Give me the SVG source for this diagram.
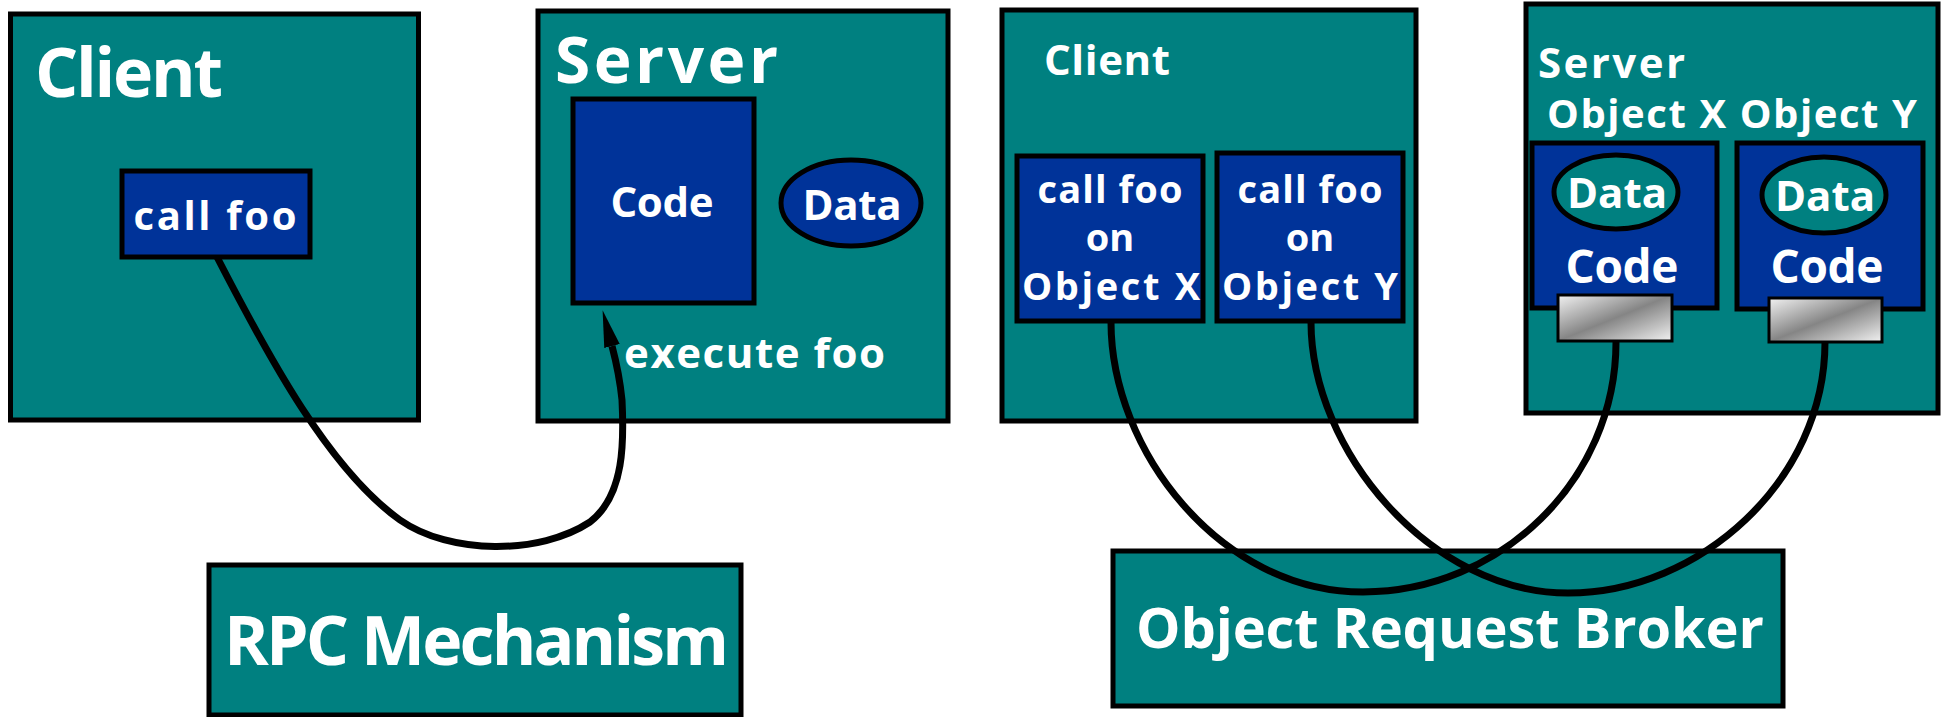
<svg xmlns="http://www.w3.org/2000/svg" width="1948" height="717" viewBox="0 0 1948 717">
<defs>
<style>
.teal{fill:#008080;stroke:#000;stroke-width:5}
.blue{fill:#003399;stroke:#000;stroke-width:5}
.tealov{fill:#008080;stroke:#000;stroke-width:5}
.plug{fill:url(#grayGrad);stroke:#000;stroke-width:3}
.t{font-family:"Open Sans","Liberation Sans",sans-serif;font-weight:700;fill:#fff}
.mid{text-anchor:middle}
.wire{fill:none;stroke:#000;stroke-width:7}
</style>
<linearGradient id="grayGrad" x1="0" y1="0" x2="1" y2="1">
<stop offset="0" stop-color="#f2f2f2"/>
<stop offset="0.5" stop-color="#858585"/>
<stop offset="1" stop-color="#f2f2f2"/>
</linearGradient>
<marker id="arrow" markerUnits="userSpaceOnUse" markerWidth="40" markerHeight="20" viewBox="0 0 40 20" refX="0" refY="10" orient="auto">
<path d="M0,2 L37,10 L0,18 z" fill="#000"/>
</marker>
</defs>

<g id="rpc-client">
<rect class="teal" x="10.5" y="14" width="408" height="406"/>
<text class="t" x="35" y="97" font-size="68" textLength="188" lengthAdjust="spacing">Client</text>
</g>
<g id="rpc-callfoo">
<rect class="blue" x="122" y="171" width="188" height="86"/>
<text class="t mid" x="215" y="230" font-size="40" textLength="163" lengthAdjust="spacing">call foo</text>
</g>

<g id="rpc-server">
<rect class="teal" x="538" y="11" width="410" height="410"/>
<text class="t" x="555" y="83" font-size="64" textLength="223" lengthAdjust="spacing">Server</text>
<text class="t" x="624" y="368" font-size="42" textLength="261" lengthAdjust="spacing">execute foo</text>
</g>
<g id="rpc-code">
<rect class="blue" x="573" y="99" width="181" height="204"/>
<text class="t mid" x="662" y="217" font-size="42" textLength="103" lengthAdjust="spacing">Code</text>
</g>
<g id="rpc-data">
<ellipse class="blue" cx="851" cy="203" rx="70" ry="43"/>
<text class="t mid" x="852" y="220" font-size="42" textLength="99" lengthAdjust="spacing">Data</text>
</g>

<g id="rpc-mechanism">
<rect class="teal" x="209" y="565" width="532" height="150"/>
<text class="t" x="224" y="665" font-size="68" textLength="505" lengthAdjust="spacing">RPC Mechanism</text>
</g>

<g id="orb-client">
<rect class="teal" x="1002" y="10" width="414" height="411"/>
<text class="t" x="1044" y="75" font-size="42" textLength="126" lengthAdjust="spacing">Client</text>
</g>
<g id="orb-callx">
<rect class="blue" x="1017" y="156" width="186" height="165"/>
<text class="t mid" x="1110" y="203" font-size="38" textLength="145" lengthAdjust="spacing">call foo</text>
<text class="t mid" x="1110" y="251" font-size="38">on</text>
<text class="t mid" x="1111" y="300" font-size="38" textLength="178" lengthAdjust="spacing">Object X</text>
</g>
<g id="orb-cally">
<rect class="blue" x="1217" y="153" width="186" height="168"/>
<text class="t mid" x="1310" y="203" font-size="38" textLength="145" lengthAdjust="spacing">call foo</text>
<text class="t mid" x="1310" y="251" font-size="38">on</text>
<text class="t mid" x="1310" y="300" font-size="38" textLength="176" lengthAdjust="spacing">Object Y</text>
</g>

<g id="orb-server">
<rect class="teal" x="1526" y="4" width="412" height="409"/>
<text class="t" x="1538" y="78" font-size="42" textLength="147" lengthAdjust="spacing">Server</text>
<text class="t" x="1547" y="128" font-size="40" textLength="370" lengthAdjust="spacing">Object X Object Y</text>
</g>
<g id="orb-objx">
<rect class="blue" x="1532" y="143" width="185" height="165"/>
<ellipse class="tealov" cx="1616" cy="192" rx="62" ry="37"/>
<text class="t mid" x="1617" y="208" font-size="42" textLength="100" lengthAdjust="spacing">Data</text>
<text class="t mid" x="1622" y="283" font-size="46" textLength="113" lengthAdjust="spacing">Code</text>
<rect class="plug" x="1558" y="295" width="114" height="46"/>
</g>
<g id="orb-objy">
<rect class="blue" x="1737" y="143" width="186" height="166"/>
<ellipse class="tealov" cx="1824" cy="195" rx="62" ry="38"/>
<text class="t mid" x="1825" y="211" font-size="42" textLength="100" lengthAdjust="spacing">Data</text>
<text class="t mid" x="1827" y="283" font-size="46" textLength="113" lengthAdjust="spacing">Code</text>
<rect class="plug" x="1769" y="298" width="113" height="44"/>
</g>

<g id="orb-broker">
<rect class="teal" x="1113" y="551" width="670" height="155"/>
<text class="t" x="1136" y="648" font-size="56" textLength="628" lengthAdjust="spacing">Object Request Broker</text>
</g>

<g id="connectors">
<path class="wire" d="M217,257 C270,360 330,470 400,520 C450,555 540,555 590,522 C625,495 624,440 622,400 C620,380 617,365 612,346" marker-end="url(#arrow)"/>
<path class="wire" d="M1111,322 C1111,450 1220,592 1363,592 C1500,592 1616,480 1616,342"/>
<path class="wire" d="M1311,322 C1311,450 1430,593 1568,593 C1700,593 1825,480 1825,342"/>
</g>
</svg>
